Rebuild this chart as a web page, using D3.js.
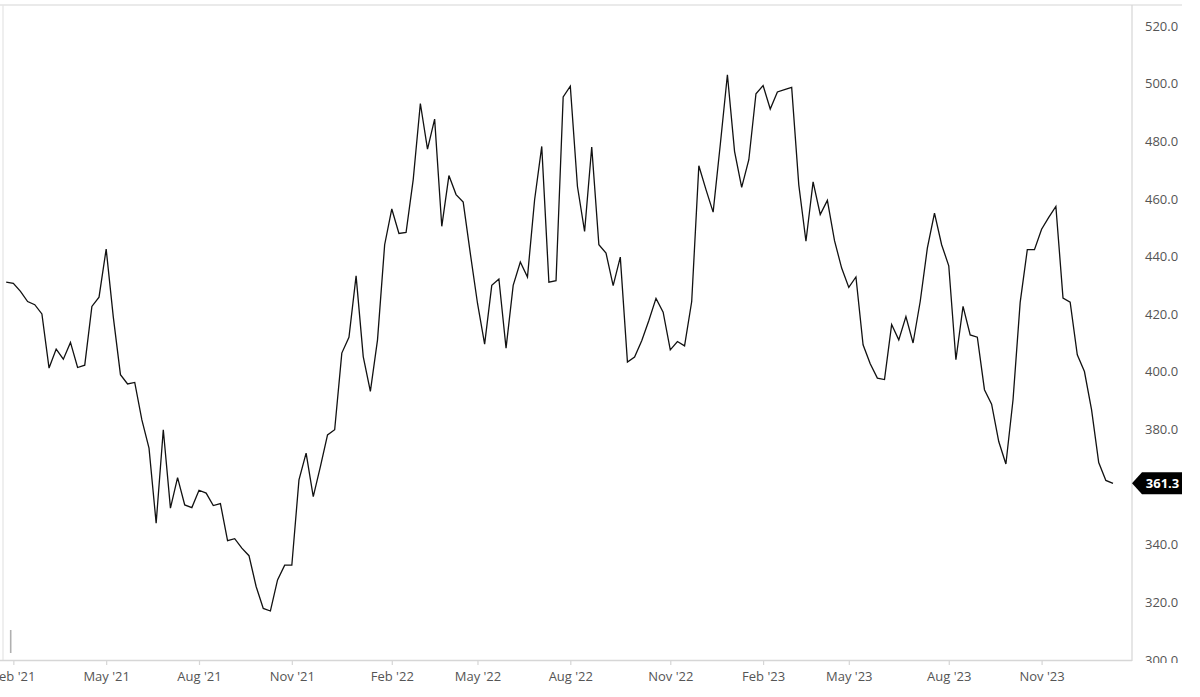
<!DOCTYPE html>
<html>
<head>
<meta charset="utf-8">
<script src="https://cdn.jsdelivr.net/npm/d3@7"></script>
<style>
html,body{margin:0;padding:0;background:#fff;}
svg{display:block;font-family:"Open Sans","Noto Sans",sans-serif;}
</style>
</head>
<body>
<svg id="chart" width="1200" height="697"></svg>
<script>
// Weekly series, first week starting Monday 2021-01-25
const startDate = "2021-01-25";
const values = [
431.1,430.7,427.9,424.4,423.3,420.1,401.3,407.9,404.4,410.2,
401.5,402.3,422.7,425.9,442.6,419.0,399.0,395.8,396.3,383.3,
373.5,347.5,379.9,352.7,363.3,353.8,352.9,358.9,357.9,353.6,
354.3,341.4,342.1,338.8,336.2,325.5,317.9,317.0,327.8,332.9,
332.9,362.5,371.8,356.7,367.1,378.1,379.9,406.5,412.0,433.3,
405.3,393.2,411.1,444.1,456.5,448.0,448.4,466.7,493.1,477.3,
487.7,450.5,468.1,461.5,458.9,441.0,423.8,409.6,430.0,432.2,
408.2,430.0,438.1,432.9,459.7,478.2,431.1,431.6,495.4,499.1,
464.3,448.7,478.0,444.1,441.2,429.9,439.8,403.4,405.1,410.8,
417.8,425.5,420.7,407.6,410.5,409.0,424.4,471.5,463.2,455.4,
478.8,503.1,476.5,464.0,473.6,496.5,499.3,491.2,497.1,497.9,
498.7,464.8,445.3,465.9,454.6,459.5,445.5,436.0,429.3,432.9,
409.4,402.8,397.8,397.3,416.4,411.1,419.2,410.0,424.4,442.9,
455.1,444.1,436.8,404.2,422.7,412.8,412.0,393.8,388.8,375.8,
368.0,390.3,424.1,442.4,442.4,449.5,453.6,457.4,425.6,424.2,
405.9,400.1,386.8,368.5,362.3,361.3
];
const yTicks = [300,320,340,380,400,420,440,460,480,500,520];
const xTickMonths = [1,4,7,10]; // Feb, May, Aug, Nov
const lastLabel = "361.3";

const parse = d3.timeParse("%Y-%m-%d");
const d0 = parse(startDate);
const data = values.map((v,i)=>({date:d3.timeWeek.offset(d0,i), value:v}));

const svg = d3.select("#chart");
const frame = {left:3, right:1132, top:5, bottom:660};

const x = d3.scaleTime()
  .domain([data[0].date, data[data.length-1].date])
  .range([6.2, 1113]);
const y = d3.scaleLinear()
  .domain([300, 520])
  .range([660, 26]);

// first data week of each tick month
const tickDates = [];
data.forEach((d,i)=>{
  if(i===0) return;
  const prev = data[i-1].date;
  if(d.date.getMonth()!==prev.getMonth() && xTickMonths.includes(d.date.getMonth())) tickDates.push(d.date);
});

const gridColor = "#d6d6d6";
svg.append("defs").append("clipPath").attr("id","yclip")
  .append("rect").attr("x",frame.right).attr("y",0).attr("width",70).attr("height",frame.bottom+3);

// frame
svg.append("line").attr("x1",0).attr("x2",1182).attr("y1",frame.top).attr("y2",frame.top)
  .attr("stroke",gridColor).attr("stroke-width",1.2);
svg.append("line").attr("x1",frame.left).attr("x2",frame.left).attr("y1",frame.top).attr("y2",frame.bottom)
  .attr("stroke","#e4e4e4").attr("stroke-width",1.2);
svg.append("line").attr("x1",frame.right).attr("x2",frame.right).attr("y1",frame.top).attr("y2",frame.bottom+1)
  .attr("stroke",gridColor).attr("stroke-width",1.2);

// x axis
const xAxis = d3.axisBottom(x).tickValues(tickDates).tickSize(5).tickPadding(7)
  .tickFormat(d=>d3.timeFormat("%b '%y")(d));
const gx = svg.append("g").attr("transform",`translate(0,${frame.bottom})`).call(xAxis);
gx.select(".domain").attr("d",`M0,0.5H${frame.right}`).attr("stroke",gridColor).attr("stroke-width",1.5);
gx.selectAll(".tick line").attr("stroke",gridColor).attr("stroke-width",1.2);
gx.selectAll(".tick text").attr("fill","#555").attr("font-size",13)
  .attr("font-family","'Open Sans','Noto Sans',sans-serif");

// y axis on right
const yAxis = d3.axisRight(y).tickValues(yTicks).tickSize(0).tickPadding(13)
  .tickFormat(d3.format(".1f"));
const gyWrap = svg.append("g").attr("clip-path","url(#yclip)");
const gy = gyWrap.append("g").attr("transform",`translate(${frame.right},0)`).call(yAxis);
gy.select(".domain").remove();
gy.selectAll(".tick text").attr("fill","#555").attr("font-size",13)
  .attr("font-family","'Open Sans','Noto Sans',sans-serif");

// small volume-like mark at the start
svg.append("line").attr("x1",x(data[0].date)+4.5).attr("x2",x(data[0].date)+4.5)
  .attr("y1",630).attr("y2",653).attr("stroke","#b0b0b0").attr("stroke-width",1.6);

// line
const line = d3.line().x(d=>x(d.date)).y(d=>y(d.value));
svg.append("path").datum(data).attr("d",line)
  .attr("fill","none").attr("stroke","#111").attr("stroke-width",1.3)
  .attr("stroke-linejoin","miter");

// last value tag
const last = data[data.length-1];
const ty = y(last.value);
const tx = frame.right;
svg.append("path")
  .attr("d",`M${tx},${ty} L${tx+10},${ty-11} L${tx+50},${ty-11} L${tx+50},${ty+11} L${tx+10},${ty+11} Z`)
  .attr("fill","#000");
svg.append("text").attr("x",tx+30.5).attr("y",ty).attr("dy","0.35em")
  .attr("text-anchor","middle").attr("fill","#fff").attr("font-weight","bold")
  .attr("font-size",13).text(lastLabel);
</script>
</body>
</html>
